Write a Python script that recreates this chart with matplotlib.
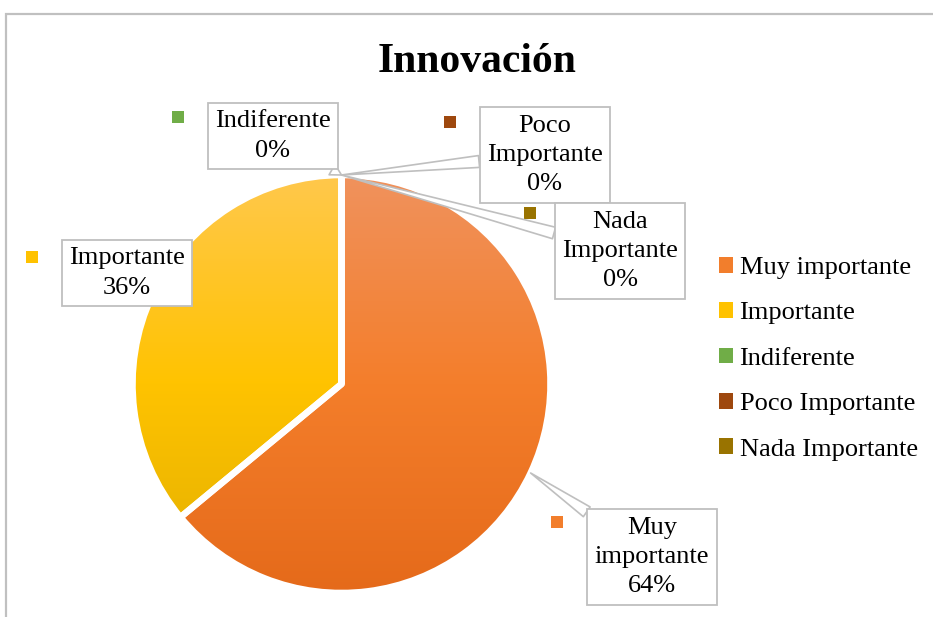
import numpy as np
import matplotlib
matplotlib.use("Agg")
import matplotlib.pyplot as plt
from matplotlib.colors import LinearSegmentedColormap
from matplotlib.patches import Patch

# ---------------- data ----------------
title = "Innovación"
categories = ["Muy importante", "Importante", "Indiferente", "Poco Importante", "Nada Importante"]
values = [64, 36, 0, 0, 0]
label_names = ["Muy\nimportante", "Importante", "Indiferente", "Poco\nImportante", "Nada\nImportante"]

# ---------------- style ----------------
base_colors = ["#F27E2C", "#FFC200", "#70AD47", "#9E480E", "#997300"]
grad_stops = [
    ["#F0925D", "#F47E2B", "#E56A1A"],
    ["#FFC84C", "#FFC300", "#E2AF00"],
    ["#80BB58", "#70AD47", "#5E9A38"],
    ["#B2643A", "#9E480E", "#873B07"],
    ["#AC8A33", "#997300", "#846300"],
]
FONT = "Liberation Serif"
plt.rcParams['font.family'] = [FONT, 'DejaVu Serif']

W, H = 933, 617
fig = plt.figure(figsize=(W / 100, H / 100), dpi=100)
ax = fig.add_axes([0, 0, 1, 1])


def Y(y):
    return H - y


cx, cy, r = 341.5, Y(384), 209
wedges, _ = ax.pie(values, startangle=90, counterclock=False,
                   center=(cx, cy), radius=r, normalize=True)
ax.set_xlim(0, W)
ax.set_ylim(0, H)
ax.set_aspect('auto')
ax.axis('off')

grad = np.linspace(0, 1, 256).reshape(-1, 1)
for w, stops in zip(wedges, grad_stops):
    cmap = LinearSegmentedColormap.from_list("g", stops)
    im = ax.imshow(grad, cmap=cmap, extent=[cx - r, cx + r, cy - r, cy + r],
                   origin='upper', aspect='auto', zorder=1, interpolation='bilinear')
    im.set_clip_path(w)
    w.set_facecolor('none')
    w.set_edgecolor('white')
    w.set_linewidth(4.7)
    w.set_joinstyle('round')
    w.set_zorder(2)

ax.set_xlim(0, W)
ax.set_ylim(0, H)

# ---------------- data labels (callouts) ----------------
total = sum(values)
pcts = [v / total * 100 for v in values]
label_pos = [(652, 557), (127, 273), (273, 136), (545, 155), (620, 251)]
key_pos = [(557, 522), (32, 257), (178, 117), (450, 122), (530, 213)]
draw_leader = [True, False, True, True, True]

for i, (w, name, p) in enumerate(zip(wedges, label_names, pcts)):
    th = np.deg2rad((w.theta1 + w.theta2) / 2)
    px, py = cx + r * np.cos(th), cy + r * np.sin(th)
    kx, ky = key_pos[i]
    ax.scatter([kx], [Y(ky)], marker='s', s=70, color=base_colors[i],
               zorder=3, edgecolors='none')
    lx, ly = label_pos[i]
    arrow = None
    if draw_leader[i]:
        arrow = dict(arrowstyle="wedge,tail_width=0.45,shrink_factor=0.5",
                     fc='white', ec='#BFBFBF', lw=1.2, shrinkA=0, shrinkB=0)
    ax.annotate(f"{name}\n{p:.0f}%", xy=(px, py), xytext=(lx, Y(ly)),
                textcoords='data', ha='center', va='center',
                fontsize=19, linespacing=1.42, color='black',
                bbox=dict(boxstyle='square,pad=0.28', fc='white',
                          ec='#BFBFBF', lw=1.3),
                arrowprops=arrow, zorder=5 + i * 0.1)

# ---------------- title ----------------
ax.text(477, Y(62), title, ha='center', va='center', fontsize=30,
        fontweight='bold', color='black', zorder=6)

# ---------------- legend ----------------
handles = [Patch(facecolor=c, edgecolor='none') for c in base_colors]
leg = ax.legend(handles, categories, loc='upper left',
                bbox_to_anchor=(719, Y(257)), bbox_transform=ax.transData,
                frameon=False, fontsize=19, handlelength=0.53, handleheight=0.53,
                handletextpad=0.25, labelspacing=0.88, borderpad=0, borderaxespad=0)
for t in leg.get_texts():
    t.set_color('black')

# ---------------- chart border ----------------
ax.plot([6, 6, W + 10], [-10, Y(14), Y(14)], color='#C0C0C0', lw=1.6,
        clip_on=False, solid_joinstyle='miter', zorder=0)

fig.savefig("out.png", dpi=100, facecolor='white')
